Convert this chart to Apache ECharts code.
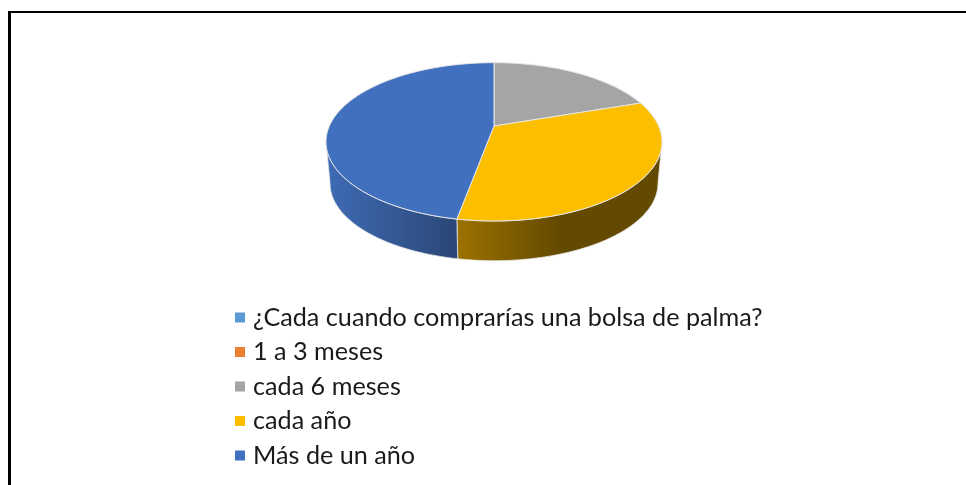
<!DOCTYPE html>
<html><head><meta charset="utf-8">
<style>html,body{margin:0;padding:0;background:#fff}#c{width:966px;height:485px}</style>
<script src="https://cdn.jsdelivr.net/npm/echarts@6/dist/echarts.min.js"></script>
</head><body><div id="c"></div>
<script>
const categories = ['¿Cada cuando comprarías una bolsa de palma?', '1 a 3 meses', 'cada 6 meses', 'cada año', 'Más de un año'];
const values = [0, 0, 19.8, 33.1, 47.1];
const colors = ['#5b9bd5', '#ed7d31', '#a5a5a5', '#fcbf00', '#4170be'];
const sideStops = [
  null, null,
  [[0, '#6a6a6a'], [1, '#6a6a6a']],
  [[0, '#9c7200'], [0.5, '#644a00'], [1, '#644a00']],
  [[0, '#3f6cb6'], [1, '#2a4675']]
];

const total = values.reduce((a, b) => a + b, 0);
const CX = 494, CY = 126, A = 76, B = 164.6, K = 0.2, DEPTH = 42, SHRINK = 0.976;
const VIS0 = Math.acos(-K), VIS1 = 2 * Math.PI - VIS0;

function project(theta, scale, dy) {
  const x = Math.sin(theta), y = -Math.cos(theta), w = 1 - K * y;
  return [CX + scale * B * x / w, CY + dy + scale * A * y / w];
}
function arc(a0, a1, scale, dy) {
  const n = Math.max(2, Math.ceil(Math.abs(a1 - a0) / 0.02)), pts = [];
  for (let i = 0; i <= n; i++) pts.push(project(a0 + (a1 - a0) * i / n, scale, dy));
  return pts;
}
function startOf(idx) {
  let s = 0;
  for (let i = 0; i < idx; i++) s += values[i];
  return s / total * 2 * Math.PI;
}
function renderSlice(idx) {
  return function () {
    const a0 = startOf(idx), a1 = a0 + values[idx] / total * 2 * Math.PI;
    const children = [];
    if (values[idx] <= 0) return { type: 'group', children };
    const s0 = Math.max(a0, VIS0), s1 = Math.min(a1, VIS1);
    if (s1 > s0) {
      const upper = arc(s0, s1, 1, 0), lower = arc(s1, s0, SHRINK, DEPTH);
      const all = upper.concat(lower);
      const xs = all.map(p => p[0]), minX = Math.min(...xs), maxX = Math.max(...xs);
      children.push({
        type: 'polygon', z2: 1,
        shape: { points: all },
        style: {
          fill: new echarts.graphic.LinearGradient(minX, 0, maxX, 0,
            sideStops[idx].map(s => ({ offset: s[0], color: s[1] })), true),
          stroke: '#e8e8e8', lineWidth: 0.8
        }
      });
    }
    children.push({
      type: 'polygon', z2: 2,
      shape: { points: [[CX, CY]].concat(arc(a0, a1, 1, 0)) },
      style: { fill: colors[idx], stroke: '#e6e6e6', lineWidth: 1, lineJoin: 'round' }
    });
    return { type: 'group', children };
  };
}

const option = {
  animation: false,
  backgroundColor: '#fff',
  legend: {
    orient: 'vertical', left: 235, top: 305,
    itemWidth: 10, itemHeight: 10, itemGap: 9.5, icon: 'rect',
    padding: 0,
    textStyle: { fontFamily: 'Lato', fontSize: 25.2, color: '#1a1a1a', padding: [0, 0, 0, 3] },
    data: categories
  },
  graphic: [
    { type: 'rect', shape: { x: 8, y: 11, width: 3, height: 474 }, style: { fill: '#000' } },
    { type: 'rect', shape: { x: 8, y: 11, width: 958, height: 2 }, style: { fill: '#000' } }
  ],
  series: categories.map((name, i) => ({
    type: 'custom', name, coordinateSystem: 'none',
    itemStyle: { color: colors[i] },
    silent: true,
    data: [values[i]],
    renderItem: renderSlice(i)
  }))
};
echarts.init(document.getElementById('c')).setOption(option);
</script></body></html>
